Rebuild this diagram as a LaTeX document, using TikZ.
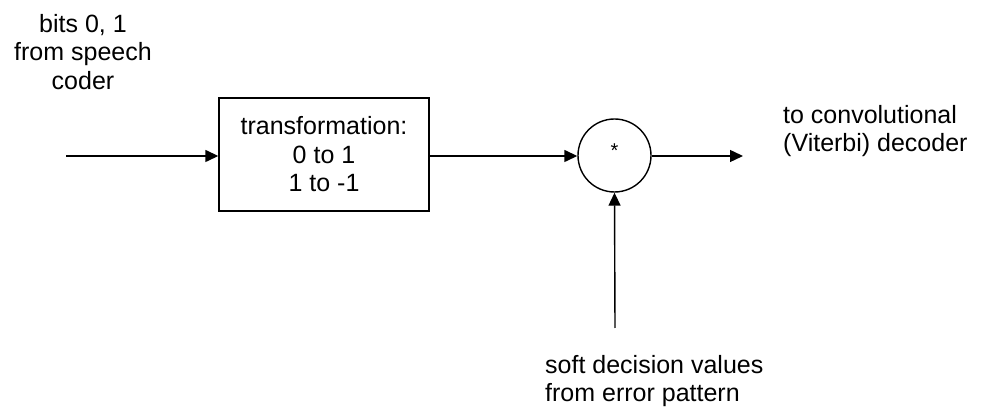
\documentclass[tikz,border=0pt]{standalone}
\usepackage{fontspec}
\setmainfont{Liberation Sans}
\usetikzlibrary{arrows.meta}
\begin{document}
\begin{tikzpicture}[x=1pt,y=-1pt,
  lbl/.style={inner sep=0pt,font=\fontsize{25}{28.5}\selectfont},
  blockbox/.style={draw,line width=1.4pt,minimum width=210pt,minimum height=113pt,inner sep=0pt,align=center,font=\fontsize{25}{28.5}\selectfont},
  mult/.style={draw,circle,line width=1.4pt,minimum size=73pt,inner sep=0pt},
  arr/.style={line width=1.4pt,-{Triangle[length=13pt,width=12pt]}}]
\useasboundingbox (0,0) rectangle (999,411);
\node[lbl,align=center] (src) at (83,52) {bits 0, 1\\from speech\\coder};
\node[blockbox] (tr) at (324,154.5) {transformation:\\0 to 1\\1 to -1};
\node[mult] (m) at (614.5,155.5) {};
\node[inner sep=0pt,font=\fontsize{20}{20}\selectfont] (star) at (614.5,151) {*};
\node[lbl,align=left,anchor=west] (dst) at (783,131) {to convolutional\\(Viterbi) decoder};
\node[lbl,align=left,anchor=west] (sdv) at (545,381) {soft decision values\\from error pattern};
\coordinate (in) at (66,156);
\coordinate (out) at (743,156);
\coordinate (sd) at (615,328);
\draw[arr] (in) -- (tr.west |- in);
\draw[arr] (tr.east |- in) -- (m.west |- in);
\draw[arr] (m.east |- out) -- (out);
\draw[arr] (sd) -- (m.south);
\end{tikzpicture}
\end{document}
